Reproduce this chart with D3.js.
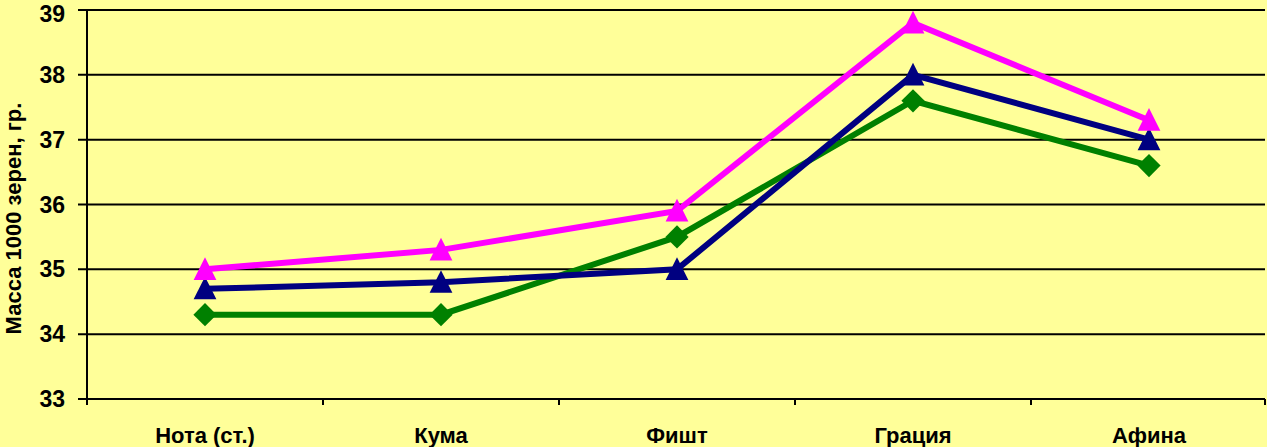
<!DOCTYPE html>
<html>
<head>
<meta charset="utf-8">
<script src="https://d3js.org/d3.v7.min.js"></script>
<style>
  body { margin: 0; background: #ffff99; }
  svg { display: block; }
  text { font-family: Arial, "Liberation Sans", sans-serif; font-weight: bold; fill: #000; }
</style>
</head>
<body>
<svg width="1267" height="447"></svg>
<script>
// sorts (x axis)
var categories = ["Нота (ст.)", "Кума", "Фишт", "Грация", "Афина"];

// mass of 1000 grains
var pinkValues  = [35.0, 35.3, 35.9, 38.8, 37.3];
var navyValues  = [34.7, 34.8, 35.0, 38.0, 37.0];
var greenValues = [34.3, 34.3, 35.5, 37.6, 36.6];

var yTicks = [33, 34, 35, 36, 37, 38, 39];
var yTitle = "Масса 1000 зерен, гр.";

var svg = d3.select("svg"),
    width = +svg.attr("width"),
    height = +svg.attr("height");

var margin = {left: 87, right: 0, top: 10, bottom: 48};

var x = d3.scaleBand()
  .domain(categories)
  .range([margin.left, width - margin.right]);

var y = d3.scaleLinear()
  .domain([33, 39])
  .range([height - margin.bottom, margin.top]);

// background
svg.append("rect")
  .attr("width", width).attr("height", height)
  .attr("fill", "#ffff99");

// horizontal grid lines
svg.append("g")
  .selectAll("line")
  .data(yTicks)
  .enter()
  .append("line")
  .attr("x1", margin.left - 9)
  .attr("x2", width - 2)
  .attr("y1", function(d) { return y(d); })
  .attr("y2", function(d) { return y(d); })
  .attr("stroke", "#000")
  .attr("stroke-width", 2);

// y axis labels, top one pushed down a bit so it stays inside the page
svg.append("g")
  .selectAll("text")
  .data(yTicks)
  .enter()
  .append("text")
  .attr("x", margin.left - 22)
  .attr("y", function(d) { return Math.max(y(d), 14); })
  .attr("dy", "0.35em")
  .attr("text-anchor", "end")
  .style("font-size", "23px")
  .text(function(d) { return d; });

// left axis line
svg.append("line")
  .attr("x1", margin.left).attr("x2", margin.left)
  .attr("y1", y(39)).attr("y2", y(33) + 5)
  .attr("stroke", "#000").attr("stroke-width", 2);

// x axis ticks between categories
var xTickPos = categories.map(function(c) { return x(c); }).concat([x.range()[1] - 2]);
svg.append("g")
  .selectAll("line")
  .data(xTickPos)
  .enter()
  .append("line")
  .attr("x1", function(d) { return d; })
  .attr("x2", function(d) { return d; })
  .attr("y1", y(33))
  .attr("y2", y(33) + 6)
  .attr("stroke", "#000")
  .attr("stroke-width", 2);

// x labels
svg.append("g")
  .selectAll("text")
  .data(categories)
  .enter()
  .append("text")
  .attr("x", function(d) { return x(d) + x.bandwidth() / 2; })
  .attr("y", 443)
  .attr("text-anchor", "middle")
  .style("font-size", "22px")
  .text(function(d) { return d; });

// y title
svg.append("text")
  .attr("transform", "translate(21," + ((y(33) + y(39)) / 2 + 14) + ") rotate(-90)")
  .attr("text-anchor", "middle")
  .style("font-size", "22px")
  .text(yTitle);

var line = d3.line()
  .x(function(d, i) { return x(categories[i]) + x.bandwidth() / 2; })
  .y(function(d) { return y(d); });

var series = [
  {values: greenValues, color: "#008000", marker: d3.symbolSquare, size: 270},
  {values: navyValues,  color: "#000080", marker: d3.symbolTriangle, size: 225},
  {values: pinkValues,  color: "#ff00ff", marker: d3.symbolTriangle, size: 225}
];

series.forEach(function(s) {
  svg.append("path")
    .datum(s.values)
    .attr("fill", "none")
    .attr("stroke", s.color)
    .attr("stroke-width", 6)
    .attr("d", line);

  svg.append("g")
    .selectAll("path")
    .data(s.values)
    .enter()
    .append("path")
    .attr("d", d3.symbol().type(s.marker).size(s.size))
    .attr("fill", s.color)
    .attr("transform", function(d, i) {
      var cx = x(categories[i]) + x.bandwidth() / 2;
      if (s.marker === d3.symbolSquare) {
        // diamond: square turned on its corner
        return "translate(" + cx + "," + y(d) + ") rotate(45)";
      }
      return "translate(" + cx + "," + (y(d) + 3) + ") scale(1,1.15)";
    });
});
</script>
</body>
</html>
